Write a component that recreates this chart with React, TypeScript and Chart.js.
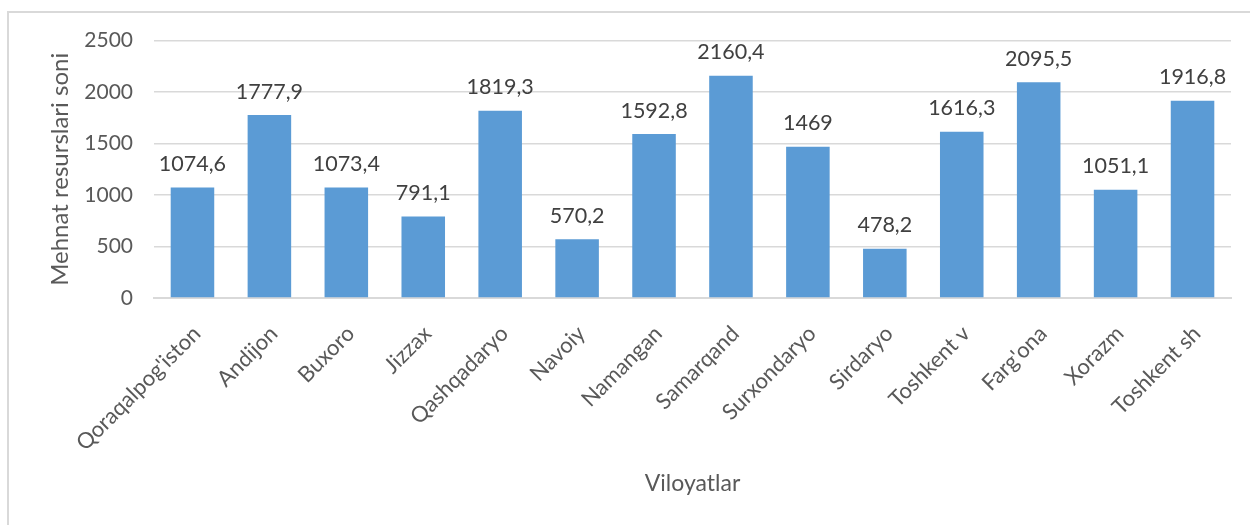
import React, { useEffect, useRef } from "react";
import { Chart, registerables } from "chart.js";

Chart.register(...registerables);

const categories = [
  "Qoraqalpog'iston",
  "Andijon",
  "Buxoro",
  "Jizzax",
  "Qashqadaryo",
  "Navoiy",
  "Namangan",
  "Samarqand",
  "Surxondaryo",
  "Sirdaryo",
  "Toshkent v",
  "Farg'ona",
  "Xorazm",
  "Toshkent sh",
];

const values = [
  1074.6, 1777.9, 1073.4, 791.1, 1819.3, 570.2, 1592.8, 2160.4, 1469, 478.2,
  1616.3, 2095.5, 1051.1, 1916.8,
];

const yTicks = [0, 500, 1000, 1500, 2000, 2500];
const yTitle = "Mehnat resurslari soni";
const xTitle = "Viloyatlar";

const FONT = "Lato";
const TEXT = "#595959";
const LABEL = "#404040";
const GRID = "#D9D9D9";
const BAR = "#5B9BD5";

const fmt = (v: number) => String(v).replace(".", ",");

export default function App() {
  const ref = useRef<HTMLCanvasElement | null>(null);

  useEffect(() => {
    if (!ref.current) return;

    const framePlugin = {
      id: "frame",
      beforeDraw(chart: any) {
        const ctx = chart.ctx;
        ctx.save();
        ctx.strokeStyle = GRID;
        ctx.lineWidth = 2;
        ctx.beginPath();
        ctx.moveTo(8, 525);
        ctx.lineTo(8, 12);
        ctx.lineTo(1250, 12);
        ctx.stroke();
        ctx.restore();
      },
    };

    const labelsPlugin = {
      id: "barLabels",
      afterDatasetsDraw(chart: any) {
        const ctx = chart.ctx;
        const meta = chart.getDatasetMeta(0);
        ctx.save();
        ctx.font = `21.5px ${FONT}`;
        ctx.fillStyle = LABEL;
        ctx.textAlign = "center";
        ctx.textBaseline = "alphabetic";
        meta.data.forEach((bar: any, i: number) => {
          ctx.fillText(fmt(values[i]), bar.x, bar.y - 16.5);
        });
        ctx.restore();
      },
      afterDraw(chart: any) {
        const ctx = chart.ctx;
        const xs = chart.scales.x;
        ctx.save();
        ctx.font = `22px ${FONT}`;
        ctx.fillStyle = TEXT;
        ctx.textAlign = "right";
        ctx.textBaseline = "middle";
        categories.forEach((c, i) => {
          const x = xs.getPixelForValue(i) + 4.5;
          const y = chart.chartArea.bottom + 32;
          ctx.save();
          ctx.translate(x, y);
          ctx.rotate(-Math.PI / 4);
          ctx.fillText(c, 0, 0);
          ctx.restore();
        });
        ctx.restore();
      },
    };

    const chart = new Chart(ref.current, {
      type: "bar",
      data: {
        labels: categories,
        datasets: [
          {
            data: values,
            backgroundColor: BAR,
            borderWidth: 0,
            categoryPercentage: 1,
            barPercentage: 0.566,
          },
        ],
      },
      options: {
        animation: false,
        responsive: false,
        maintainAspectRatio: false,
        layout: { padding: { left: 8, top: 40.7, right: 19, bottom: 0 } },
        plugins: {
          legend: { display: false },
          tooltip: { enabled: false },
          title: { display: false },
        },
        scales: {
          x: {
            afterFit(scale: any) {
              scale.height = 227;
            },
            grid: { display: false },
            border: { display: true, color: GRID, width: 2 },
            ticks: { display: false },
            title: {
              display: true,
              text: xTitle,
              color: TEXT,
              font: { family: FONT, size: 23 },
              padding: { top: 0, bottom: 27.5 },
            },
          },
          y: {
            min: 0,
            max: 2500,
            afterFit(scale: any) {
              scale.width = 146;
            },
            afterBuildTicks(scale: any) {
              scale.ticks = yTicks.map((v) => ({ value: v }));
            },
            grid: { color: GRID, lineWidth: 1.5, drawTicks: false },
            border: { display: false },
            ticks: {
              color: TEXT,
              font: { family: FONT, size: 21 },
              padding: 21,
              callback: (v: any) => String(v),
            },
            title: {
              display: true,
              text: yTitle,
              color: TEXT,
              font: { family: FONT, size: 24 },
              padding: { top: 38, bottom: 4 },
            },
          },
        },
      },
      plugins: [framePlugin, labelsPlugin],
    });

    return () => chart.destroy();
  }, []);

  return (
    <div
      style={{
        position: "fixed",
        left: 0,
        top: 0,
        width: 1250,
        height: 525,
        background: "#fff",
      }}
    >
      <canvas ref={ref} width={1250} height={525} />
    </div>
  );
}
